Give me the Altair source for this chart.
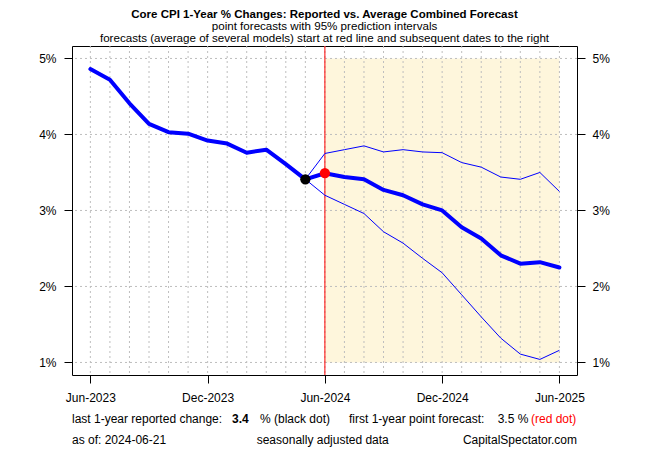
import altair as alt
import pandas as pd

# ---------------- data ----------------
hist_months = ["2023-06", "2023-07", "2023-08", "2023-09", "2023-10", "2023-11",
               "2023-12", "2024-01", "2024-02", "2024-03", "2024-04", "2024-05"]
hist_values = [4.86, 4.72, 4.41, 4.14, 4.03, 4.01, 3.92, 3.88, 3.76, 3.80, 3.61, 3.41]

fc_months = ["2024-06", "2024-07", "2024-08", "2024-09", "2024-10", "2024-11", "2024-12",
             "2025-01", "2025-02", "2025-03", "2025-04", "2025-05", "2025-06"]
fc_point = [3.49, 3.44, 3.41, 3.27, 3.20, 3.08, 3.00, 2.78, 2.63, 2.41, 2.30, 2.32, 2.25]
fc_upper = [3.75, 3.80, 3.85, 3.77, 3.80, 3.77, 3.76, 3.63, 3.57, 3.44, 3.41, 3.50, 3.25]
fc_lower = [3.20, 3.08, 2.96, 2.72, 2.57, 2.37, 2.18, 1.89, 1.60, 1.32, 1.11, 1.04, 1.16]

y_ticks = [1, 2, 3, 4, 5]
x_tick_months = ["2023-06", "2023-12", "2024-06", "2024-12", "2025-06"]
x_tick_labels = ["Jun-2023", "Dec-2023", "Jun-2024", "Dec-2024", "Jun-2025"]

title_text = "Core CPI 1-Year % Changes: Reported vs. Average Combined Forecast"
subtitle_1 = "point forecasts with 95% prediction intervals"
subtitle_2 = "forecasts (average of several models) start at red line and subsequent dates to the right"
as_of = "2024-06-21"
source = "CapitalSpectator.com"
sa_note = "seasonally adjusted data"

FONT = "Liberation Sans"
W, H = 505, 329


def midx(s):
    y, m = map(int, s.split("-"))
    return (y - 2023) * 12 + (m - 6)


hist_df = pd.DataFrame({"i": [midx(m) for m in hist_months], "v": hist_values})
# forecast lines are anchored at the last reported value
fc_df = pd.DataFrame({
    "i": [midx(hist_months[-1])] + [midx(m) for m in fc_months],
    "p": [hist_values[-1]] + fc_point,
    "u": [hist_values[-1]] + fc_upper,
    "l": [hist_values[-1]] + fc_lower,
})
all_idx = list(range(midx(hist_months[0]), midx(fc_months[-1]) + 1))
vgrid_df = pd.DataFrame({"i": all_idx})
hgrid_df = pd.DataFrame({"v": y_ticks})
shade_df = pd.DataFrame({"x0": [midx(fc_months[0])], "x1": [midx(fc_months[-1])],
                         "y0": [min(y_ticks)], "y1": [max(y_ticks)]})
start_df = pd.DataFrame({"i": [midx(fc_months[0])]})
black_df = pd.DataFrame({"i": [midx(hist_months[-1])], "v": [hist_values[-1]]})
red_df = pd.DataFrame({"i": [midx(fc_months[0])], "v": [fc_point[0]]})

xscale = alt.Scale(domain=[-0.94, 24.9], nice=False, zero=False)
yscale = alt.Scale(domain=[0.835, 5.164], nice=False, zero=False)

tick_idx = [midx(m) for m in x_tick_months]
x_expr = " : ".join(f"datum.value == {t} ? '{l}'" for t, l in zip(tick_idx, x_tick_labels)) + " : ''"

x_axis = alt.Axis(values=tick_idx, labelExpr=x_expr, tickSize=8, tickColor="black",
                  domain=False, grid=False, labelPadding=9, labelFontSize=12,
                  labelColor="black", labelFont=FONT, title=None)
y_axis_left = alt.Axis(values=y_ticks, labelExpr="datum.value + '%'", tickSize=8,
                       tickColor="black", domain=False, grid=False, labelPadding=8,
                       labelFontSize=12, labelColor="black", labelFont=FONT, title=None)
y_axis_right = alt.Axis(values=y_ticks, labelExpr="datum.value + '%'", tickSize=8,
                        tickColor="black", domain=False, grid=False, labelPadding=7,
                        labelFontSize=12, labelColor="black", labelFont=FONT, title=None,
                        orient="right")

X = alt.X("i:Q", scale=xscale, axis=x_axis)

shade = alt.Chart(shade_df).mark_rect(color="#FEF6DC").encode(
    x=alt.X("x0:Q", scale=xscale, axis=x_axis), x2="x1:Q",
    y=alt.Y("y0:Q", scale=yscale, axis=y_axis_left), y2="y1:Q")

vgrid = alt.Chart(vgrid_df).mark_rule(color="#BEBEBE", strokeWidth=1, strokeDash=[2, 3]).encode(x=X)
hgrid = alt.Chart(hgrid_df).mark_rule(color="#BEBEBE", strokeWidth=1, strokeDash=[2, 3]).encode(
    y=alt.Y("v:Q", scale=yscale, axis=y_axis_left))

start_rule = alt.Chart(start_df).mark_rule(color="#FF0000", strokeWidth=1).encode(x=X)

hist_line = alt.Chart(hist_df).mark_line(color="#0000FF", strokeWidth=4, strokeCap="round",
                                         strokeJoin="round").encode(
    x=X, y=alt.Y("v:Q", scale=yscale, axis=y_axis_left))

up_line = alt.Chart(fc_df).mark_line(color="#0000FF", strokeWidth=1).encode(
    x=X, y=alt.Y("u:Q", scale=yscale, axis=y_axis_left))
lo_line = alt.Chart(fc_df).mark_line(color="#0000FF", strokeWidth=1).encode(
    x=X, y=alt.Y("l:Q", scale=yscale, axis=y_axis_left))
pt_line = alt.Chart(fc_df).mark_line(color="#0000FF", strokeWidth=4, strokeCap="round",
                                     strokeJoin="round").encode(
    x=X, y=alt.Y("p:Q", scale=yscale, axis=y_axis_left))

black_dot = alt.Chart(black_df).mark_circle(color="black", size=105, opacity=1).encode(
    x=X, y=alt.Y("v:Q", scale=yscale, axis=y_axis_left))
red_dot = alt.Chart(red_df).mark_circle(color="#FF0000", size=105, opacity=1).encode(
    x=X, y=alt.Y("v:Q", scale=yscale, axis=y_axis_left))


def txt(s, x, y, align="left", bold=False, color="black", size=12):
    return alt.Chart(pd.DataFrame({"t": [s]})).mark_text(
        align=align, baseline="middle", font=FONT, fontSize=size,
        fontWeight="bold" if bold else "normal", color=color).encode(
        text="t:N", x=alt.value(x), y=alt.value(y))


cx = W / 2
texts = [
    txt(title_text, cx, 14.5 - 46, align="center", bold=True, size=11.5),
    txt(subtitle_1, cx, 26.5 - 46, align="center", size=11.6),
    txt(subtitle_2, cx, 38.5 - 46, align="center", size=11.6),
    txt("last 1-year reported change:", 0, 419 - 46),
    txt(f"{hist_values[-1]:.1f}", 160, 419 - 46, bold=True),
    txt("% (black dot)", 188, 419 - 46),
    txt("first 1-year point forecast:", 277, 419 - 46),
    txt(f"{fc_point[0]:.1f} %", 425.7, 419 - 46),
    txt("(red dot)", 459, 419 - 46, color="#FF0000"),
    txt(f"as of:  {as_of}", 0, 440 - 46),
    txt(sa_note, 184.7, 440 - 46),
    txt(source, W, 440 - 46, align="right"),
]

main = alt.layer(shade, vgrid, hgrid, start_rule, up_line, lo_line, hist_line, pt_line,
                 black_dot, red_dot, *texts)

right = alt.Chart(hgrid_df).mark_rule(opacity=0).encode(
    y=alt.Y("v:Q", scale=yscale, axis=y_axis_right))

chart = alt.layer(main, right).resolve_scale(y="independent").properties(
    width=W, height=H,
    autosize=alt.AutoSizeParams(type="none"),
    padding={"left": 64, "top": 38, "right": 60, "bottom": 74},
    background="white",
).configure_view(stroke="black", strokeWidth=1)

chart.save("out.html", embed_options={"renderer": "svg", "actions": False})
